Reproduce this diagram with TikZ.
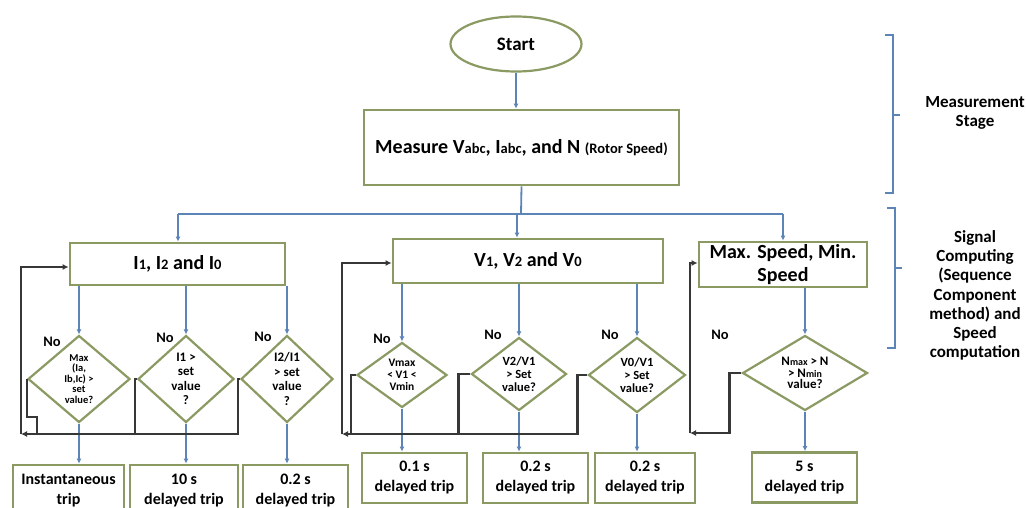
\documentclass[tikz,border=0pt]{standalone}
\usepackage{fontspec}
\setmainfont{Carlito}
\usetikzlibrary{shapes.geometric,arrows.meta}
\definecolor{boxc}{RGB}{138,154,98}
\definecolor{arrc}{RGB}{92,132,182}
\definecolor{fbc}{RGB}{55,55,55}
\newcommand\ssub[1]{{\fontsize{14.5}{16}\selectfont #1}}
\newcommand\dsub[1]{{\fontsize{10}{10}\selectfont #1}}
\tikzset{
  box/.style={draw=boxc, line width=2.8pt, fill=white, rectangle, inner sep=0pt, align=center},
  title/.style={box, font=\fontsize{20}{23}\selectfont\bfseries},
  trip/.style={box, minimum height=50, font=\fontsize{16}{20}\selectfont\bfseries},
  dia/.style={draw=boxc, line width=2.2pt, diamond, inner sep=-14pt, align=center, fill=white},
  flowline/.style={draw=arrc, line width=1.8pt},
  flow/.style={flowline, -{Latex[length=5pt,width=5pt]}},
  fb/.style={draw=fbc, line width=2.2pt},
  fbarrow/.style={fb, -{Latex[length=6pt,width=6pt]}},
  nolab/.style={font=\fontsize{14.5}{16}\selectfont\bfseries},
  side/.style={align=center, font=\fontsize{17}{19.2}\selectfont\bfseries},
  brk/.style={draw=arrc, line width=1.5pt}
}
\begin{document}
\begin{tikzpicture}[x=1pt,y=-1pt]
\useasboundingbox (0,0) rectangle (1026,508);
\fill[white] (0,0) rectangle (1026,508);

% top
\node[ellipse, draw=boxc, line width=2.2pt, minimum width=131, minimum height=55, font=\fontsize{19}{22}\selectfont\bfseries] (start) at (516,44) {Start};
\node[box, minimum width=315, minimum height=75, font=\fontsize{20}{23}\selectfont\bfseries] (meas) at (521.5,147.5) {Measure V\ssub{abc}, I\ssub{abc}, and N \ssub{(Rotor Speed)}};

% section boxes
\node[title, minimum width=215, minimum height=42] (ib) at (177.5,264) {I\ssub{1}, I\ssub{2} and I\ssub{0}};
\node[title, minimum width=270, minimum height=44] (vb) at (528,261) {V\ssub{1}, V\ssub{2} and V\ssub{0}};
\node[title, minimum width=168, minimum height=45] (sb) at (783,264.5) {Max. Speed, Min.\\Speed};

% diamonds
\node[dia, minimum width=102, minimum height=87, font=\fontsize{10.5}{10.5}\selectfont\bfseries] (d1) at (79,379) {Max\\(Ia,\\Ib,Ic) >\\set\\value?};
\node[dia, minimum width=96, minimum height=87, font=\fontsize{13}{14.5}\selectfont\bfseries] (d2) at (186,379) {I1 >\\set\\value\\?};
\node[dia, minimum width=92, minimum height=87, font=\fontsize{13}{14.5}\selectfont\bfseries] (d3) at (287,379) {I2/I1\\> set\\value\\?};
\node[dia, minimum width=90, minimum height=65, font=\fontsize{11.5}{12}\selectfont\bfseries] (d4) at (402,375) {Vmax\\< V1 <\\Vmin};
\node[dia, minimum width=95, minimum height=73, font=\fontsize{12.5}{13}\selectfont\bfseries] (d5) at (519,374) {V2/V1\\> Set\\value?};
\node[dia, minimum width=97, minimum height=75, font=\fontsize{12.5}{13}\selectfont\bfseries] (d6) at (637,375) {V0/V1\\> Set\\value?};
\node[dia, minimum width=125, minimum height=75, font=\fontsize{13}{11.5}\selectfont\bfseries] (d7) at (805,373) {N\dsub{max} > N\\> N\dsub{min}\\value?};

% trip boxes
\node[trip, minimum width=111, minimum height=51] (t1) at (68.5,490.5) {Instantaneous\\trip};
\node[trip, minimum width=108, minimum height=51] (t2) at (184,490.5) {10 s\\delayed trip};
\node[trip, minimum width=105, minimum height=51] (t3) at (295.5,490.5) {0.2 s\\delayed trip};
\node[trip, minimum width=105] (t4) at (414.5,478) {0.1 s\\delayed trip};
\node[trip, minimum width=105] (t5) at (535.5,478) {0.2 s\\delayed trip};
\node[trip, minimum width=100] (t6) at (645,478) {0.2 s\\delayed trip};
\node[trip, minimum width=105] (t7) at (804.5,477.5) {5 s\\delayed trip};

% No labels
\node[nolab] (n1) at (52,342) {No};
\node[nolab] (n2) at (165,338) {No};
\node[nolab] (n3) at (263,337) {No};
\node[nolab] (n4) at (382,339) {No};
\node[nolab] (n5) at (493,335) {No};
\node[nolab] (n6) at (610,335) {No};
\node[nolab] (n7) at (720,335) {No};

% main flow
\coordinate (jc) at (521,214);
\coordinate (jl) at (178,214);
\coordinate (jv) at (517,214);
\coordinate (jr) at (783,214);
\draw[flow] (start.south) -- (start.south |- meas.north);
\draw[flowline] (meas.south) -- (jc);
\draw[flowline] (jl) -- (jr);
\draw[flow] (jl) -- (jl |- ib.north);
\draw[flow] (jv) -- (jv |- vb.north);
\draw[flow] (jr) -- (jr |- sb.north);

\foreach \d in {d1,d2,d3}{\draw[flow] (\d.north |- ib.south) -- (\d.north);}
\foreach \d in {d4,d5,d6}{\draw[flow] (\d.north |- vb.south) -- (\d.north);}
\draw[flow] (d7.north |- sb.south) -- (d7.north);

\draw[flow] (d1.south) -- (d1.south |- t1.north);
\draw[flow] (d2.south) -- (d2.south |- t2.north);
\draw[flow] (d3.south) -- (d3.south |- t3.north);
\draw[flow] (d4.south) -- (d4.south |- t4.north);
\draw[flow] (d5.south) -- (d5.south |- t5.north);
\draw[flow] (d6.south) -- (d6.south |- t6.north);
\draw[flow] (d7.south) -- (d7.south |- t7.north);

% feedback I
\coordinate (cI) at (21,434);
\draw[fbarrow] (d3.west) -- ++(-2,0) |- (cI);
\draw[fb] (d2.west) -| ([xshift=-2pt]d2.west |- cI);
\draw[fb] (d1.west) -- ++(0,38) -| ([xshift=10pt]d1.west |- cI);
\draw[fbarrow] (cI) |- ([yshift=-3pt]ib.west);

% feedback V
\coordinate (cV) at (342,434);
\draw[fbarrow] (d6.west) -- ++(-10,0) |- (cV);
\draw[fb] (d5.west) -| ([xshift=-12pt]d5.west |- cV);
\draw[fb] (d4.west) -| ([xshift=-5pt]d4.west |- cV);
\draw[fbarrow] (cV) |- ([yshift=-2pt]vb.west);

% feedback S
\coordinate (cS) at (690,433);
\draw[fbarrow] (d7.west) -- ++(-12,0) |- (cS);
\draw[fbarrow] (cS) |- ([yshift=1.5pt]sb.west);

% side brackets and labels
\coordinate (b1t) at (885,35);
\coordinate (b1b) at (885,193);
\draw[brk] (b1t) -- ++(8,0) -- ++(0,158) -- (b1b);
\draw[brk] (893,115) -- (900,115);
\coordinate (b2t) at (887,208);
\coordinate (b2b) at (887,348);
\draw[brk] (b2t) -- ++(8,0) -- ++(0,140) -- (b2b);
\draw[brk] (895,268) -- (902,268);
\node[side] (lab1) at (975,113) {Measurement\\Stage};
\node[side] (lab2) at (975,295.5) {Signal\\Computing\\(Sequence\\Component\\method) and\\Speed\\computation};
\end{tikzpicture}
\end{document}
